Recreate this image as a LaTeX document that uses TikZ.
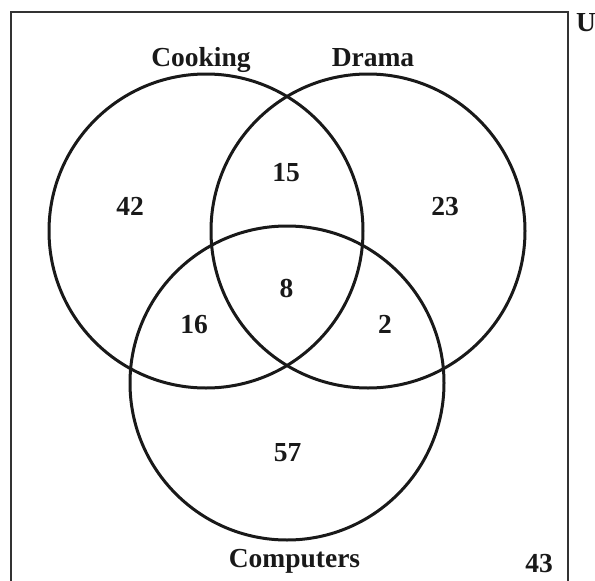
\documentclass[tikz,border=0pt]{standalone}
\usepackage{fontspec}
\setmainfont{Liberation Serif}
\begin{document}
\begin{tikzpicture}[x=1pt,y=-1pt,
  setcircle/.style={circle,draw=black!90,line width=3pt,minimum size=314pt,inner sep=0pt},
  txt/.style={anchor=base,inner sep=0pt,font=\fontsize{27.5}{32}\selectfont\bfseries,text=black!90}]
\useasboundingbox (0,0) rectangle (595,581);
\draw[line width=2pt,black!80] (11,581) -- (11,12) -- (568,12) -- (568,581);
\node[setcircle] (cook) at (206,231) {};
\node[setcircle] (drama) at (368,231) {};
\node[setcircle] (comp) at (287,383) {};
\node[txt] (lcook) at (201,66) {Cooking};
\node[txt] (ldrama) at (373,66) {Drama};
\node[txt] (lcomp) at (294.5,567) {Computers};
\node[txt] (lu) at (586,31) {U};
\node[txt] (n42) at (130,215) {42};
\node[txt] (n15) at (286,181) {15};
\node[txt] (n23) at (445,215) {23};
\node[txt] (n8) at (286.5,297) {8};
\node[txt] (n16) at (194,333) {16};
\node[txt] (n2) at (385,333) {2};
\node[txt] (n57) at (287.5,461) {57};
\node[txt] (n43) at (539,572) {43};
\end{tikzpicture}
\end{document}
